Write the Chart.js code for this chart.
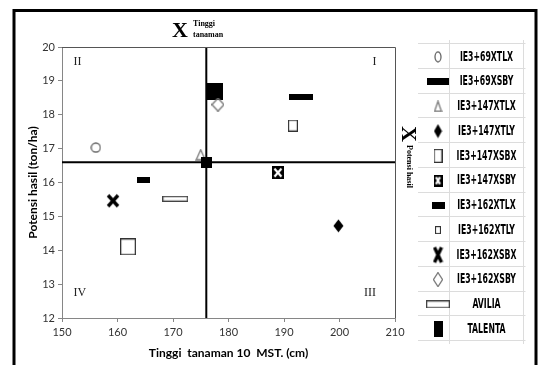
<!DOCTYPE html>
<html>
<head>
<meta charset="utf-8">
<script src="https://cdn.jsdelivr.net/npm/chart.js@4.4.0/dist/chart.umd.min.js"></script>
<style>
  html, body { margin: 0; padding: 0; background: #fff; }
  canvas { display: block; }
</style>
</head>
<body>
<canvas id="chart" width="541" height="365"></canvas>
<script>
// data
const varieties = ['IE3+69XTLX', 'IE3+69XSBY', 'IE3+147XTLX', 'IE3+147XTLY', 'IE3+147XSBX', 'IE3+147XSBY',
  'IE3+162XTLX', 'IE3+162XTLY', 'IE3+162XSBX', 'IE3+162XSBY', 'AVILIA', 'TALENTA'];
const tinggi = [156.1, 193.1, 175.0, 199.8, 161.9, 188.9, 164.6, 191.6, 159.2, 178.1, 170.4, 177.6];
const potensi = [17.03, 18.53, 16.82, 14.72, 14.10, 16.29, 16.08, 17.68, 15.46, 18.30, 15.52, 18.70];
const rataTinggi = 176;
const rataPotensi = 16.6;
const xTicks = [150, 160, 170, 180, 190, 200, 210];
const yTicks = [12, 13, 14, 15, 16, 17, 18, 19, 20];
const kuadran = ['I', 'II', 'III', 'IV'];

// marker images
function mk(w, h, draw) {
  const c = document.createElement('canvas');
  c.width = w; c.height = h;
  draw(c.getContext('2d'), w, h);
  return c;
}
const fillRect = (col) => (g, w, h) => { g.fillStyle = col; g.fillRect(0, 0, w, h); };
const openRect = (col, lw) => (g, w, h) => { g.strokeStyle = col; g.lineWidth = lw; g.strokeRect(lw / 2, lw / 2, w - lw, h - lw); };
const ellipse = (col) => (g, w, h) => { g.strokeStyle = col; g.lineWidth = 1.3; g.beginPath(); g.ellipse(w / 2, h / 2, w / 2 - 1, h / 2 - 1, 0, 0, Math.PI * 2); g.stroke(); };
const triangle = (col) => (g, w, h) => { g.strokeStyle = col; g.lineWidth = 1.3; g.beginPath(); g.moveTo(w / 2, 1); g.lineTo(w - 1, h - 1); g.lineTo(1, h - 1); g.closePath(); g.stroke(); };
const diamond = (col, filled) => (g, w, h) => {
  g.beginPath(); g.moveTo(w / 2, 0.5); g.lineTo(w - 0.5, h / 2); g.lineTo(w / 2, h - 0.5); g.lineTo(0.5, h / 2); g.closePath();
  if (filled) { g.fillStyle = col; g.fill(); } else { g.strokeStyle = col; g.lineWidth = 1.3; g.stroke(); }
};
const crossBox = (g, w, h) => {
  g.fillStyle = '#000'; g.fillRect(0, 0, w, h);
  g.strokeStyle = '#fff'; g.lineWidth = 2.2; g.beginPath();
  g.moveTo(2.5, 2.5); g.lineTo(w - 2.5, h - 2.5); g.moveTo(w - 2.5, 2.5); g.lineTo(2.5, h - 2.5); g.stroke();
};
const boldX = (g, w, h) => {
  g.strokeStyle = '#000'; g.lineWidth = 3.4; g.lineCap = 'butt'; g.beginPath();
  g.moveTo(2, 2); g.lineTo(w - 2, h - 2); g.moveTo(w - 2, 2); g.lineTo(2, h - 2); g.stroke();
};

const plotMarks = [
  mk(11, 11, ellipse('#666')),
  mk(24, 6, fillRect('#000')),
  mk(11, 12, triangle('#777')),
  mk(11, 14, diamond('#000', true)),
  mk(16, 17, openRect('#333', 1.3)),
  mk(12, 13, crossBox),
  mk(13, 6, fillRect('#000')),
  mk(10, 12, openRect('#333', 1.2)),
  mk(14, 15, boldX),
  mk(13, 14, diamond('#777', false)),
  mk(26, 6, openRect('#444', 1.3)),
  mk(16, 17, fillRect('#000'))
];
const legendMarks = [
  mk(8, 12, ellipse('#666')),
  mk(22, 7, fillRect('#000')),
  mk(9, 12, triangle('#777')),
  mk(9, 15, diamond('#000', true)),
  mk(9, 14, openRect('#333', 1.2)),
  mk(9, 12, crossBox),
  mk(13, 7, fillRect('#000')),
  mk(6, 8, openRect('#333', 1.1)),
  mk(11, 19, boldX),
  mk(10, 15, diamond('#777', false)),
  mk(24, 8, openRect('#444', 1.3)),
  mk(9, 16, fillRect('#000'))
];
const titikRata = mk(11, 11, fillRect('#000'));

const datasets = varieties.map((v, i) => ({
  type: 'scatter',
  label: v,
  data: [{ x: tinggi[i], y: potensi[i] }],
  pointStyle: plotMarks[i],
  pointRadius: 6,
  order: 1
}));
datasets.push({
  type: 'line', label: 'garis tinggi',
  data: [{ x: rataTinggi, y: yTicks[0] }, { x: rataTinggi, y: yTicks[yTicks.length - 1] }],
  borderColor: '#000', borderWidth: 2, pointRadius: 0, order: 2
});
datasets.push({
  type: 'line', label: 'garis potensi',
  data: [{ x: xTicks[0], y: rataPotensi }, { x: xTicks[xTicks.length - 1], y: rataPotensi }],
  borderColor: '#000', borderWidth: 2, pointRadius: 0, order: 2
});
datasets.push({
  type: 'scatter', label: 'rata-rata',
  data: [{ x: rataTinggi, y: rataPotensi }],
  pointStyle: titikRata, pointRadius: 6, order: 0
});

const decor = {
  id: 'decor',
  afterDraw(chart) {
    const ctx = chart.ctx;
    const a = chart.chartArea;
    const xs = chart.scales.x, ys = chart.scales.y;
    ctx.save();

    // plot top and right border
    ctx.strokeStyle = '#555';
    ctx.lineWidth = 1;
    ctx.beginPath();
    ctx.moveTo(a.left, a.top + 0.5); ctx.lineTo(a.right + 0.5, a.top + 0.5); ctx.lineTo(a.right + 0.5, a.bottom);
    ctx.stroke();

    // quadrant labels
    ctx.fillStyle = '#222';
    ctx.font = '12px "Liberation Serif", serif';
    ctx.textAlign = 'center';
    ctx.textBaseline = 'middle';
    const qx = [206.3, 152.8, 205.5, 153.2];
    const qy = [19.57, 19.57, 12.75, 12.75];
    kuadran.forEach((k, i) => ctx.fillText(k, xs.getPixelForValue(qx[i]), ys.getPixelForValue(qy[i])));

    // X Tinggi tanaman (top)
    ctx.fillStyle = '#000';
    ctx.font = 'bold 22px "Liberation Serif", serif';
    ctx.fillText('X', 180, 31);
    ctx.font = 'bold 8px "Liberation Serif", serif';
    ctx.textAlign = 'left';
    ctx.fillText('Tinggi', 193, 24);
    ctx.fillText('tanaman', 193, 35);

    // X Potensi hasil (right, rotated)
    ctx.save();
    ctx.translate(408, 134);
    ctx.rotate(Math.PI / 2);
    ctx.textAlign = 'center';
    ctx.font = 'bold 22px "Liberation Serif", serif';
    ctx.fillText('X', 0, 0);
    ctx.textAlign = 'left';
    ctx.font = 'bold 8px "Liberation Serif", serif';
    ctx.fillText('Potensi hasil', 11, -1);
    ctx.restore();

    // legend table
    const top = 43, rowH = 24.75, left = 418, mid = 449.5, right = 523.5;
    const n = varieties.length;
    ctx.strokeStyle = '#dcdcdc';
    ctx.lineWidth = 1;
    ctx.beginPath();
    for (let i = 0; i <= n; i++) {
      const y = Math.round(top + i * rowH) + 0.5;
      ctx.moveTo(left, y); ctx.lineTo(right + 2, y);
    }
    ctx.moveTo(mid, top - 3); ctx.lineTo(mid, top + n * rowH + 4);
    ctx.moveTo(right, top - 3); ctx.lineTo(right, top + n * rowH + 4);
    ctx.stroke();

    ctx.font = 'bold 14px "Liberation Sans Narrow", "DejaVu Sans Condensed", sans-serif';
    ctx.textAlign = 'center';
    ctx.textBaseline = 'middle';
    const sx = Math.min(1, 59 / ctx.measureText('IE3+147XSBY').width);
    varieties.forEach((v, i) => {
      const cy = top + i * rowH + rowH / 2 + 1.5;
      Chart.helpers.drawPoint(ctx, { pointStyle: legendMarks[i], radius: 6, rotation: 0 }, 438, cy);
      ctx.save();
      ctx.translate(486.5, cy);
      ctx.scale(sx, 1);
      ctx.fillStyle = '#000';
      ctx.fillText(v, 0, 0);
      ctx.restore();
    });

    // outer frame
    ctx.strokeStyle = '#000';
    ctx.lineWidth = 3;
    ctx.strokeRect(14, 10.5, 522, 400);
    ctx.restore();
  }
};

const tickFont = { family: 'Lato, "Open Sans", sans-serif', size: 11 };
const titleFont = { family: 'Lato, "Open Sans", sans-serif', size: 12, weight: 'bold' };

new Chart(document.getElementById('chart'), {
  type: 'scatter',
  data: { datasets },
  options: {
    responsive: false,
    animation: false,
    devicePixelRatio: 1,
    layout: { padding: { top: 47, right: 146, left: 0, bottom: 0 } },
    plugins: { legend: { display: false }, tooltip: { enabled: false } },
    scales: {
      x: {
        type: 'linear', min: xTicks[0], max: xTicks[xTicks.length - 1],
        afterBuildTicks: s => { s.ticks = xTicks.map(v => ({ value: v })); },
        afterFit: s => { s.height = 47; },
        ticks: { font: tickFont, color: '#333', padding: 4 },
        grid: { drawOnChartArea: false, tickLength: 4, color: '#868686' },
        border: { color: '#868686' },
        title: { display: true, text: 'Tinggi  tanaman 10  MST. (cm)', font: titleFont, color: '#000', padding: { top: 0, bottom: 5 } }
      },
      y: {
        type: 'linear', min: yTicks[0], max: yTicks[yTicks.length - 1],
        afterBuildTicks: s => { s.ticks = yTicks.map(v => ({ value: v })); },
        afterFit: s => { s.width = 62; },
        ticks: { font: tickFont, color: '#333', padding: 3 },
        grid: { drawOnChartArea: false, tickLength: 4, color: '#868686' },
        border: { color: '#868686' },
        title: { display: true, text: 'Potensi hasil (ton/ha)', font: titleFont, color: '#000', padding: { top: 26, bottom: 0 } }
      }
    }
  },
  plugins: [decor]
});
</script>
</body>
</html>
